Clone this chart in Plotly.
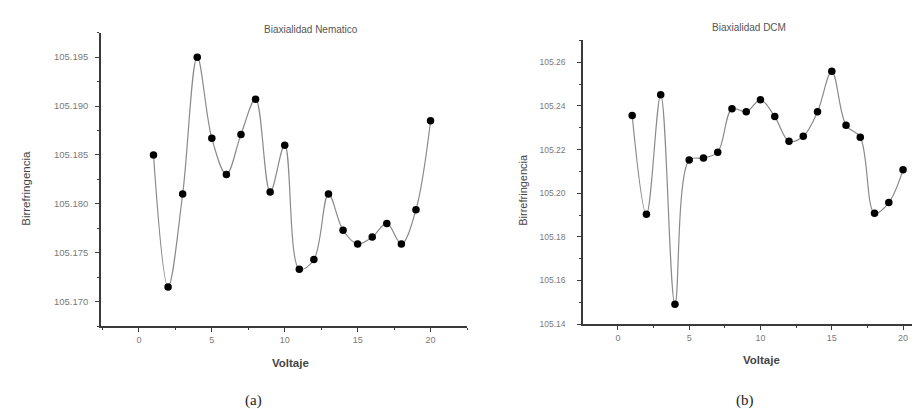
import plotly.graph_objects as go

voltaje = list(range(1, 21))
birr_nematico = [105.1850, 105.1715, 105.1810, 105.1950, 105.1867, 105.1830, 105.1871,
                 105.1907, 105.1812, 105.1860, 105.1733, 105.1743, 105.1810, 105.1773,
                 105.1759, 105.1766, 105.1780, 105.1759, 105.1794, 105.1885]
birr_dcm = [105.2356, 105.1903, 105.2451, 105.1491, 105.2152, 105.2161, 105.2188,
            105.2387, 105.2373, 105.2428, 105.2351, 105.2238, 105.2261, 105.2373,
            105.2559, 105.2311, 105.2256, 105.1908, 105.1957, 105.2107]
xticks = [0, 5, 10, 15, 20]
yticks_a = [105.170, 105.175, 105.180, 105.185, 105.190, 105.195]
yticks_b = [105.14, 105.16, 105.18, 105.20, 105.22, 105.24, 105.26]

W, H = 920, 409
def px_x(p): return p / W
def px_y(p): return 1 - p / H

fig = go.Figure()
for xs, ys, xa, ya in [(voltaje, birr_nematico, "x", "y"), (voltaje, birr_dcm, "x2", "y2")]:
    fig.add_trace(go.Scatter(x=xs, y=ys, mode="lines", line=dict(color="#8a8a8a", width=1.2, shape="spline", smoothing=1.0),
                             xaxis=xa, yaxis=ya, showlegend=False, hoverinfo="skip"))
    fig.add_trace(go.Scatter(x=xs, y=ys, mode="markers", marker=dict(color="black", size=7.5),
                             xaxis=xa, yaxis=ya, showlegend=False))

font = "Arial"
serif = "Times New Roman"
def axis_common(size):
    return dict(showgrid=False, zeroline=False, showline=True, linecolor="#3a3a3a", linewidth=1.5,
                ticks="outside", ticklen=4, tickcolor="#3a3a3a", tickwidth=1,
                tickfont=dict(family=font, size=size, color="#7a7a7a"))

fig.update_layout(
    width=W, height=H, margin=dict(l=0, r=0, t=0, b=0),
    paper_bgcolor="white", plot_bgcolor="white", font=dict(family=font),
    xaxis=dict(domain=[px_x(93), px_x(459)], range=[-2.6, 22.5], anchor="y",
               tickvals=xticks, ticktext=[str(v) for v in xticks],
               minor=dict(ticks="outside", ticklen=2, dtick=2.5, tick0=0, tickcolor="#3a3a3a"), **axis_common(9)),
    yaxis=dict(domain=[px_y(322), px_y(25)], range=[105.1675, 105.1975], anchor="x",
               tickvals=yticks_a, ticktext=[f"{v:.3f}" for v in yticks_a], ticklabelstandoff=5,
               minor=dict(ticks="outside", ticklen=2, dtick=0.0025, tick0=105.170, tickcolor="#3a3a3a"), **axis_common(9.5)),
    xaxis2=dict(domain=[px_x(575), 1.0], range=[-2.45, 21.75], anchor="y2",
                tickvals=xticks, ticktext=[str(v) for v in xticks],
                minor=dict(ticks="outside", ticklen=2, dtick=2.5, tick0=0, tickcolor="#3a3a3a"), **axis_common(9)),
    yaxis2=dict(domain=[px_y(320), px_y(32)], range=[105.14, 105.2704], anchor="x2",
                tickvals=yticks_b, ticktext=[f"{v:.2f}" for v in yticks_b], ticklabelstandoff=10,
                minor=dict(ticks="outside", ticklen=2, dtick=0.01, tick0=105.14, tickcolor="#3a3a3a"), **axis_common(8.5)),
)

ann = []
def add(text, x, y, size, color, fam=font, angle=0, bold=False):
    ann.append(dict(text=(f"<b>{text}</b>" if bold else text), x=px_x(x), y=px_y(y), xref="paper", yref="paper",
                    showarrow=False, textangle=angle, font=dict(family=fam, size=size, color=color),
                    xanchor="center", yanchor="middle"))

add("Biaxialidad Nematico", 303, 22, 10, "#555")
add("Biaxialidad DCM", 741, 20, 10, "#555")
add("Birrefringencia", 18, 183, 11.5, "#444", angle=-90)
add("Birrefringencia", 515, 184, 11, "#444", angle=-90)
add("Voltaje", 282, 359, 11.5, "#444", bold=True)
add("Voltaje", 753, 356, 11.5, "#444", bold=True)
add("(a)", 245, 397, 15, "#222", fam=serif)
add("(b)", 737, 397, 15, "#222", fam=serif)
fig.update_layout(annotations=ann)

fig.write_html("out.html")
